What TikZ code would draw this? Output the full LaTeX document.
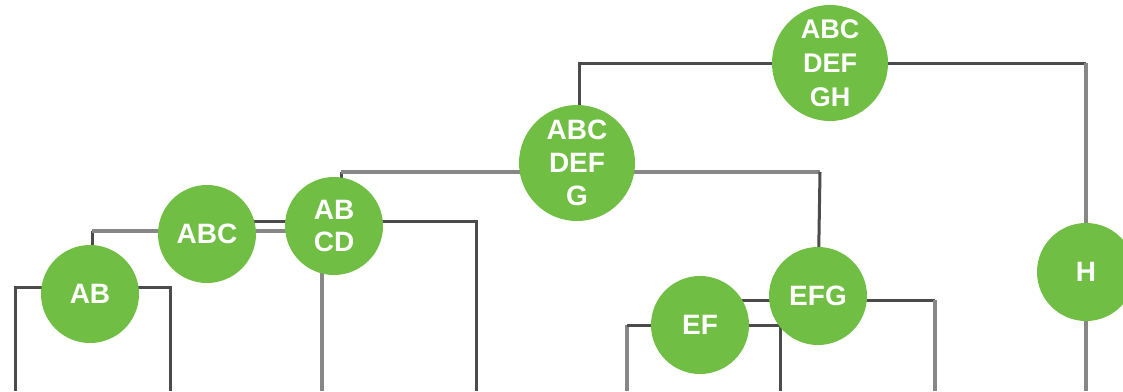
\documentclass[tikz,border=0pt]{standalone}
\usepackage{fontspec}
\setmainfont{Liberation Sans}
\usetikzlibrary{backgrounds}
\definecolor{leafgreen}{RGB}{112,190,68}
\definecolor{linedark}{RGB}{75,75,75}
\definecolor{linesoft}{RGB}{135,135,135}
\tikzset{
  clus/.style={circle, fill=leafgreen, text=white, inner sep=0pt,
    minimum size=98pt, align=center, font=\bfseries\fontsize{28}{32}\selectfont},
  bigclus/.style={clus, minimum size=116pt, font=\bfseries\fontsize{27}{34}\selectfont},
  link/.style={draw=linedark, line width=3pt},
  linksoft/.style={draw=linesoft, line width=4.2pt},
}
\begin{document}
\begin{tikzpicture}[x=1pt,y=-1pt]
\useasboundingbox (0,0) rectangle (1123,391);
\clip (0,0) rectangle (1123,391);
% leaf ends
\coordinate (la) at (15,391);
\coordinate (lb) at (170,391);
\coordinate (lc) at (322,391);
\coordinate (ld) at (476,391);
\coordinate (le) at (627,391);
\coordinate (lf) at (780,391);
\coordinate (lg) at (935,391);
\coordinate (lh) at (1086,391);
% cluster nodes
\node[clus] (ab) at (90,294) {AB};
\node[clus] (abc) at (207,234) {ABC};
\node[clus] (abcd) at (334,226) {AB\\CD};
\node[bigclus, font=\bfseries\fontsize{28}{33}\selectfont] (abcdefg) at (577,163) {ABC\\DEF\\G};
\node[clus] (ef) at (700,325) {EF};
\node[clus] (efg) at (818,296) {EFG};
\node[clus] (h) at (1086,272) {H};
\node[bigclus] (abcdefgh) at (830,63) {ABC\\DEF\\GH};
\begin{scope}[on background layer]
  % AB
  \draw[link] (la) -- (15,287) -- (170,287) -- (lb);
  % ABC
  \draw[link] (ab.center) ++(2,0) -- (92,231);
  \draw[linksoft] (92,231) -- (322,231);
  \draw[linksoft] (322,231) -- (lc);
  % ABCD
  \draw[link] (abc.center) -- (207,221) -- (476,221) -- (ld);
  % ABCDEFG
  \draw[link] (abcd.center) ++(7,0) -- (341,172);
  \draw[linksoft] (341,172) -- (820,172);
  \draw[link] (820,172) -- (efg.center);
  % EF
  \draw[linksoft] (le) -- (627,325);
  \draw[link] (627,325) -- (780,325) -- (lf);
  % EFG
  \draw[link] (ef.center) -- (700,300) -- (935,300);
  \draw[linksoft] (935,300) -- (lg);
  % ABCDEFGH
  \draw[link] (abcdefg.center) ++(2,0) -- (579,63) -- (1086,63);
  \draw[linksoft] (1086,63) -- (h.center) -- (lh);
\end{scope}
\end{tikzpicture}
\end{document}
